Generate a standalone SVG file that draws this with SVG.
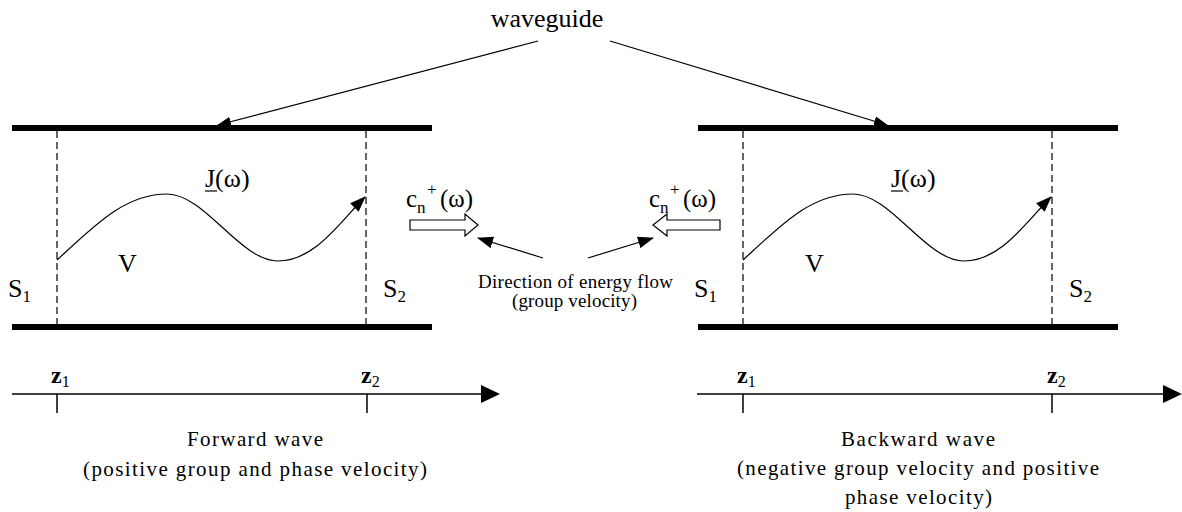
<svg xmlns="http://www.w3.org/2000/svg" width="1182" height="512" viewBox="0 0 1182 512">
<defs>
<style>
.t{font-family:"Liberation Serif","Times New Roman",serif;fill:#000}
.big{font-size:26px}
.sub{font-size:17px}
.sm{font-size:19px}
.bt{font-size:21px}
.bar{fill:#000}
.dash{stroke:#000;stroke-width:1.2;stroke-dasharray:7,4;fill:none}
.thin{stroke:#000;stroke-width:1.2;fill:none}
.ax{stroke:#000;stroke-width:1.5;fill:none}
.hollow{fill:#fff;stroke:#000;stroke-width:1.2}
</style>
<marker id="ah" viewBox="0 0 16 12" refX="15" refY="6" markerWidth="16" markerHeight="12" markerUnits="userSpaceOnUse" orient="auto">
<path d="M0,0 L16,6 L0,12 Z" fill="#000"/>
</marker>
<marker id="ahs" viewBox="0 0 14 10" refX="13" refY="5" markerWidth="14" markerHeight="10" markerUnits="userSpaceOnUse" orient="auto">
<path d="M0,0 L14,5 L0,10 Z" fill="#000"/>
</marker>
</defs>
<rect width="1182" height="512" fill="#fff"/>

<g id="label-waveguide">
<text class="t" x="547" y="27" font-size="26" text-anchor="middle">waveguide</text>
</g>

<g id="waveguide-forward">
<rect class="bar" x="12" y="125" width="420" height="6"/>
<rect class="bar" x="12" y="324" width="420" height="6"/>
<line class="dash" x1="57" y1="131" x2="57" y2="324"/>
<line class="dash" x1="366" y1="131" x2="366" y2="324"/>
<text class="t big" x="205" y="187">J(ω)</text>
<line x1="205" y1="191" x2="217" y2="191" stroke="#000" stroke-width="1.2"/>
<text class="t big" x="118" y="272">V</text>
<text class="t big" x="8" y="297">S<tspan class="sub" dy="5">1</tspan></text>
<text class="t big" x="383" y="297">S<tspan class="sub" dy="5">2</tspan></text>
</g>

<g id="waveguide-backward">
<rect class="bar" x="698" y="125" width="420" height="6"/>
<rect class="bar" x="698" y="324" width="420" height="6"/>
<line class="dash" x1="743" y1="131" x2="743" y2="324"/>
<line class="dash" x1="1052" y1="131" x2="1052" y2="324"/>
<text class="t big" x="891" y="187">J(ω)</text>
<line x1="891" y1="191" x2="903" y2="191" stroke="#000" stroke-width="1.2"/>
<text class="t big" x="805" y="272">V</text>
<text class="t big" x="694" y="297">S<tspan class="sub" dy="5">1</tspan></text>
<text class="t big" x="1069" y="297">S<tspan class="sub" dy="5">2</tspan></text>
</g>

<g id="cn-forward">
<text class="t" font-size="25" x="406" y="207">c</text>
<text class="t" font-size="17" x="417" y="213">n</text>
<text class="t" font-size="17" x="427" y="195">+</text>
<text class="t" font-size="25" x="440" y="207">(ω)</text>
<polygon class="hollow" points="410,220 465,220 465,214 478,225 465,236 465,230 410,230"/>
</g>

<g id="cn-backward">
<text class="t" font-size="25" x="649" y="207">c</text>
<text class="t" font-size="17" x="660" y="213">n</text>
<text class="t" font-size="17" x="670" y="195">+</text>
<text class="t" font-size="25" x="683" y="207">(ω)</text>
<polygon class="hollow" points="720,220 667,220 667,214 653,225 667,236 667,230 720,230"/>
</g>

<g id="label-energy">
<text class="t sm" x="478" y="288" textLength="195" lengthAdjust="spacing">Direction of energy flow</text>
<text class="t sm" x="512" y="307" textLength="125" lengthAdjust="spacing">(group velocity)</text>
</g>

<g id="axis-forward">
<line class="ax" x1="12" y1="394" x2="484" y2="394"/>
<path d="M481,385 L500,394 L481,403 Z" fill="#000"/>
<line class="ax" x1="57" y1="394" x2="57" y2="413"/>
<line class="ax" x1="367" y1="394" x2="367" y2="413"/>
<text class="t" font-size="24" font-weight="bold" x="51" y="383">z<tspan font-size="16" font-weight="normal" dy="4">1</tspan></text>
<text class="t" font-size="24" font-weight="bold" x="361" y="383">z<tspan font-size="16" font-weight="normal" dy="4">2</tspan></text>
<text class="t bt" x="187" y="446" textLength="136" lengthAdjust="spacing">Forward wave</text>
<text class="t bt" x="83" y="476" textLength="344" lengthAdjust="spacing">(positive group and phase velocity)</text>
</g>

<g id="axis-backward">
<line class="ax" x1="697" y1="394" x2="1166" y2="394"/>
<path d="M1163,385 L1182,394 L1163,403 Z" fill="#000"/>
<line class="ax" x1="743" y1="394" x2="743" y2="413"/>
<line class="ax" x1="1052" y1="394" x2="1052" y2="413"/>
<text class="t" font-size="24" font-weight="bold" x="737" y="383">z<tspan font-size="16" font-weight="normal" dy="4">1</tspan></text>
<text class="t" font-size="24" font-weight="bold" x="1047" y="383">z<tspan font-size="16" font-weight="normal" dy="4">2</tspan></text>
<text class="t bt" x="841" y="446" textLength="154" lengthAdjust="spacing">Backward wave</text>
<text class="t bt" x="737" y="475" textLength="362" lengthAdjust="spacing">(negative group velocity and positive</text>
<text class="t bt" x="845" y="504" textLength="147" lengthAdjust="spacing">phase velocity)</text>
</g>

<g id="connectors">
<line class="thin" x1="538" y1="41" x2="218" y2="125" marker-end="url(#ahs)"/>
<line class="thin" x1="610" y1="41" x2="887" y2="125" marker-end="url(#ahs)"/>
<path class="thin" d="M57,260 C95,225 125,194 167,194 C205,194 240,261 278,261 C315,261 340,222 365,197" marker-end="url(#ah)"/>
<path class="thin" d="M743,260 C781,225 811,194 853,194 C891,194 926,261 964,261 C1001,261 1026,222 1051,197" marker-end="url(#ah)"/>
<line class="thin" x1="543" y1="258" x2="478" y2="238" marker-end="url(#ah)"/>
<line class="thin" x1="588" y1="258" x2="653" y2="238" marker-end="url(#ah)"/>
</g>
</svg>
